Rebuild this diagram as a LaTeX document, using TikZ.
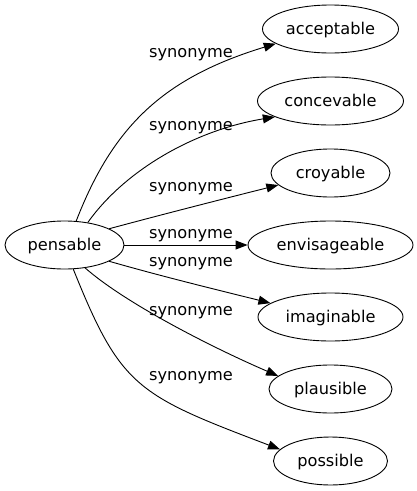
\documentclass[tikz,border=0pt]{standalone}
\usepackage{fontspec}
\setmainfont{DejaVu Sans}
\usetikzlibrary{shapes.geometric,arrows.meta}
\begin{document}
\begin{tikzpicture}[x=1pt,y=-1pt,
  word/.style={ellipse,draw,line width=0.9pt,inner sep=0pt,minimum height=48pt,
    font=\fontsize{16.2}{19}\selectfont,text height=12pt,text depth=1pt},
  edge/.style={line width=0.9pt,-{Triangle[length=12pt,width=9pt]}},
  lab/.style={anchor=base,inner sep=0pt,font=\fontsize{16.2}{19}\selectfont}]
\useasboundingbox (0,0) rectangle (417,491);
\node[word,minimum width=119pt] (pensable) at (64.5,245) {pensable};
\node[word,minimum width=136pt] (acceptable) at (330.5,29) {acceptable};
\node[word,minimum width=146pt] (concevable) at (330.5,101) {concevable};
\node[word,minimum width=119pt] (croyable) at (330.5,173) {croyable};
\node[word,minimum width=165pt] (envisageable) at (330.5,245) {envisageable};
\node[word,minimum width=145pt] (imaginable) at (330.5,317) {imaginable};
\node[word,minimum width=123pt] (plausible) at (330.5,389) {plausible};
\node[word,minimum width=114pt] (possible) at (330.5,461) {possible};
\draw[edge] (pensable.64) .. controls (112.8,126.7) and (162.9,78) .. (acceptable.195.5);
\draw[edge] (pensable.44) .. controls (125,170) and (195,130) .. (concevable.196.5);
\draw[edge] (pensable.20.5) .. controls (164,214) and (219,200) .. (croyable.193.7);
\draw[edge] (pensable.east) -- (envisageable.west);
\draw[edge] (pensable.-20.5) .. controls (164,277) and (218,290) .. (imaginable.167);
\draw[edge] (pensable.-48.3) .. controls (125,303) and (211,347) .. (plausible.166.8);
\draw[edge] (pensable.-70) .. controls (120.9,387.7) and (137,395) .. (possible.167.3);
\node[lab] (l1) at (191,57.3) {synonyme};
\node[lab] (l2) at (191,130.5) {synonyme};
\node[lab] (l3) at (191,191.7) {synonyme};
\node[lab] (l4) at (191,238) {synonyme};
\node[lab] (l5) at (191,266.5) {synonyme};
\node[lab] (l6) at (191,315) {synonyme};
\node[lab] (l7) at (191,380.5) {synonyme};
\end{tikzpicture}
\end{document}
